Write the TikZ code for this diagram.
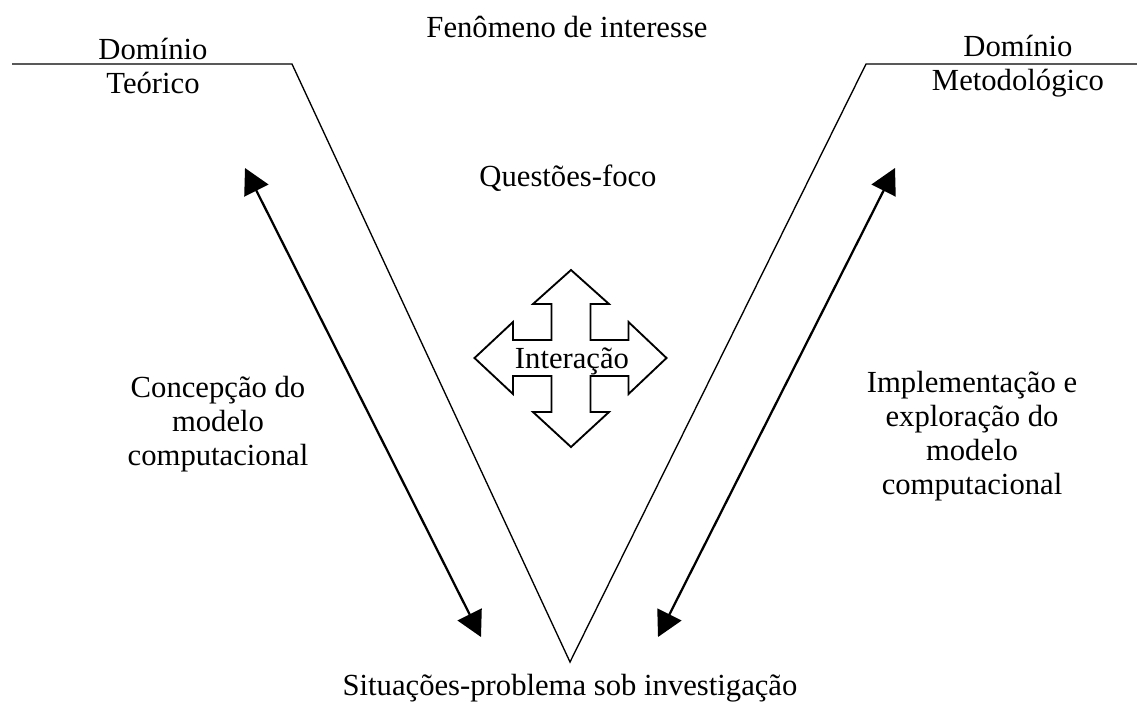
\documentclass[tikz,border=0pt]{standalone}
\usepackage{fontspec}
\setmainfont{Liberation Serif}
\usetikzlibrary{arrows.meta}

\begin{document}
\begin{tikzpicture}[x=0.75pt, y=-0.75pt,
        lbl/.style={font=\fontsize{23}{25.5}\selectfont, align=center, inner sep=0pt},
        vline/.style={line width=1pt, line join=miter},
        dbl/.style={{Triangle[length=19pt,width=20pt]}-{Triangle[length=19pt,width=20pt]}, line width=1.7pt},
        cross/.style={draw, line width=1.4pt, fill=white, line join=miter}
    ]
        \useasboundingbox (0,0) rectangle (1137,701);

        \coordinate (l0) at (12,64);
        \coordinate (l1) at (292,64);
        \coordinate (v) at (570,662);
        \coordinate (r1) at (866,64);
        \coordinate (r0) at (1137,64);
        \draw[vline] (l0) -- (l1) -- (v) -- (r1) -- (r0);

        \coordinate (at) at (245,168);
        \coordinate (ab) at (481,637);
        \coordinate (bt) at (895,168);
        \coordinate (bb) at (658,637);
        \draw[dbl] (at) -- (ab);
        \draw[dbl] (bt) -- (bb);

        \coordinate (c) at (571,358);
        \draw[cross] (c) ++(0,-88) -- ++(38,34) -- ++(-18.5,0) -- ++(0,36) -- ++(38,0)
            -- ++(0,-18) -- ++(38,36) -- ++(-38,36) -- ++(0,-18) -- ++(-38,0)
            -- ++(0,36) -- ++(18.5,0) -- ++(-38,35) -- ++(-38,-35) -- ++(18.5,0)
            -- ++(0,-36) -- ++(-38.5,0) -- ++(0,18) -- ++(-38.5,-36) -- ++(38.5,-36)
            -- ++(0,18) -- ++(38.5,0) -- ++(0,-36) -- ++(-18.5,0) -- cycle;

        \node[lbl, anchor=base] (fen) at (567,37) {Fenômeno de interesse};
        \node[lbl] (dt) at (153,66) {Domínio\\Teórico};
        \node[lbl] (dm) at (1018,66) {Domínio\\Metodológico};
        \node[lbl, anchor=base] (qf) at (568,186) {Questões-foco};
        \node[lbl, anchor=base] (int) at (572,368) {Interação};
        \node[lbl] (cmc) at (218,424) {Concepção do\\modelo\\computacional};
        \node[lbl] (iemc) at (972,436) {Implementação e\\exploração do\\modelo\\computacional};
        \node[lbl, anchor=base] (sit) at (570,695) {Situações-problema sob investigação};
    \end{tikzpicture}
\end{document}
